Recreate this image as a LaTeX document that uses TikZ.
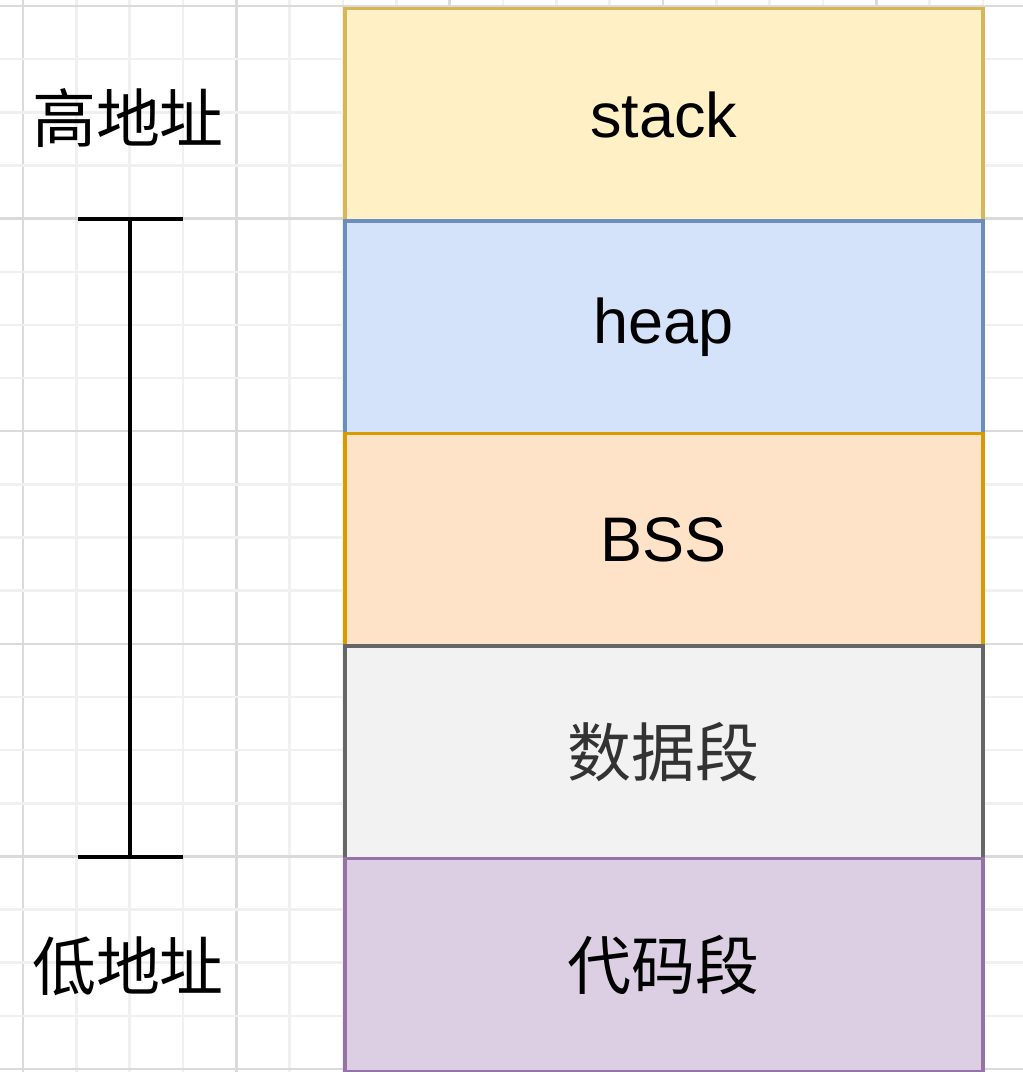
\documentclass[tikz,border=0pt]{standalone}
\usepackage{fontspec}
\setmainfont{Liberation Sans}
\newfontfamily\cjk{Noto Sans CJK SC}
\definecolor{stackF}{HTML}{FFF0C6}
\definecolor{stackD}{HTML}{D6B656}
\definecolor{heapF}{HTML}{D5E3FA}
\definecolor{heapD}{HTML}{6C8EBF}
\definecolor{bssF}{HTML}{FFE3C8}
\definecolor{bssD}{HTML}{D79B00}
\definecolor{dataF}{HTML}{F2F2F2}
\definecolor{dataD}{HTML}{666666}
\definecolor{dataT}{HTML}{333333}
\definecolor{codeF}{HTML}{DCCFE3}
\definecolor{codeD}{HTML}{9673A6}
\definecolor{gridMinor}{HTML}{F0F0F0}
\definecolor{gridMajor}{HTML}{DADADA}
\begin{document}
\begin{tikzpicture}[x=1pt,y=-1pt,
  seg/.style={draw=#1D, fill=#1F, line width=3.5pt, minimum width=638pt, minimum height=212.6pt, inner sep=0pt, anchor=north west, font=\fontsize{63}{75}\selectfont},
  cjkfont/.style={font=\cjk\fontsize{64}{76}\selectfont},
  addr/.style={cjkfont, inner sep=0pt},
  bracket/.style={line width=3.5pt, black}]
\useasboundingbox (0,0) rectangle (1023,1072);
\fill[white] (0,0) rectangle (1023,1072);
% grid
\foreach \i in {0,...,18} {
  \pgfmathsetmacro{\xx}{23+53.33*\i}
  \pgfmathtruncatemacro{\m}{mod(\i,4)}
  \ifnum\m=0
    \draw[gridMajor, line width=2.5pt] (\xx,0) -- (\xx,1072);
  \else
    \draw[gridMinor, line width=2.5pt] (\xx,0) -- (\xx,1072);
  \fi
}
\foreach \i in {0,...,20} {
  \pgfmathsetmacro{\yy}{6+53.15*\i}
  \pgfmathtruncatemacro{\m}{mod(\i,4)}
  \ifnum\m=0
    \draw[gridMajor, line width=2.5pt] (0,\yy) -- (1023,\yy);
  \else
    \draw[gridMinor, line width=2.5pt] (0,\yy) -- (1023,\yy);
  \fi
}
% segments
\node[seg=stack] (stack) at (343,6.5) {stack};
\node[seg=heap] (heap) at (343,219.1) {heap};
\node[seg=bss] (bss) at (343,431.7) {BSS};
\node[seg=data, text=dataT, cjkfont] (data) at (343,644.3) {数据段};
\node[seg=code, cjkfont] (code) at (343,856.9) {代码段};
% address labels
\node[addr] (high) at (128,118) {高地址};
\node[addr] (low) at (128,966) {低地址};
% bracket
\coordinate (btop) at (130,219);
\coordinate (bbot) at (130,857);
\draw[bracket] (btop) -- (bbot);
\draw[bracket] ([xshift=-52pt]btop) -- ([xshift=53pt]btop);
\draw[bracket] ([xshift=-52pt]bbot) -- ([xshift=53pt]bbot);
\end{tikzpicture}
\end{document}
